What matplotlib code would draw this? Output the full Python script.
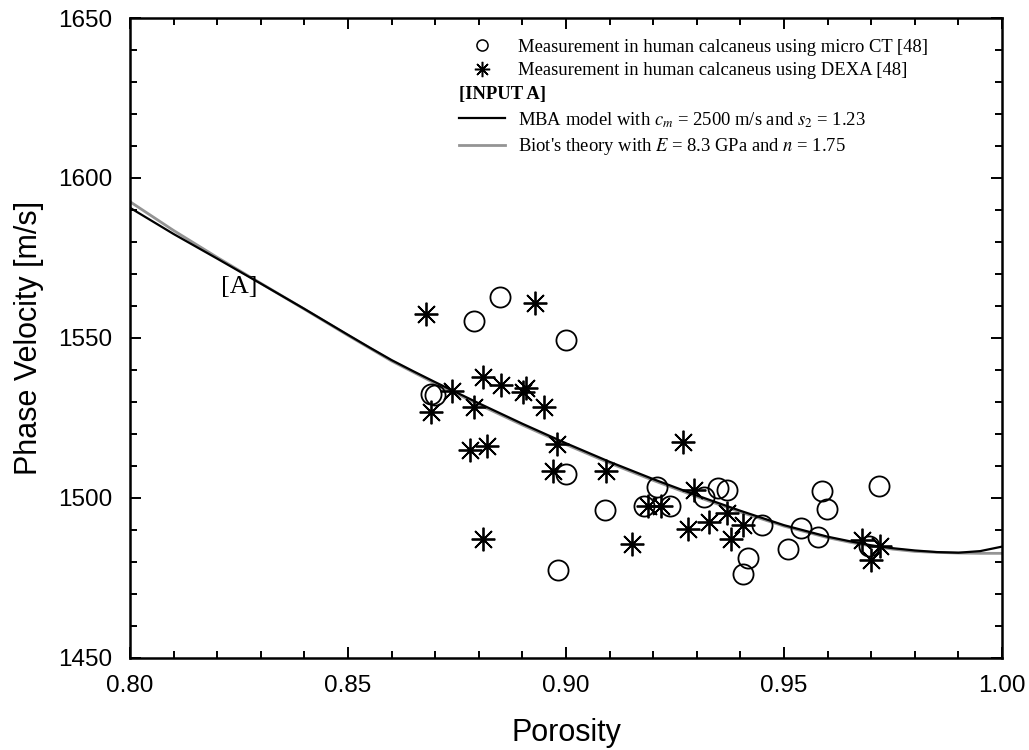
import matplotlib
matplotlib.use("Agg")
import matplotlib.pyplot as plt
from matplotlib.lines import Line2D
from matplotlib.ticker import MultipleLocator, FormatStrFormatter

# ---- data ----
ct_porosity = [0.8788, 0.8849, 0.8999, 0.8691, 0.8699, 0.8999, 0.9209, 0.9090,
               0.8981, 0.9180, 0.9239, 0.9317, 0.9348, 0.9369, 0.9449, 0.9418,
               0.9407, 0.9508, 0.9539, 0.9578, 0.9588, 0.9598, 0.9718, 0.9695]
ct_velocity = [1555.3, 1562.9, 1549.4, 1532.5, 1532.2, 1507.5, 1503.5, 1496.3,
               1477.5, 1497.5, 1497.5, 1500.4, 1503.0, 1502.5, 1491.6, 1481.2,
               1476.3, 1484.0, 1490.5, 1487.9, 1502.2, 1496.5, 1503.8, 1484.9]

dexa_porosity = [0.8680, 0.8930, 0.8690, 0.8739, 0.8809, 0.8850, 0.8790, 0.8901,
                 0.8909, 0.8949, 0.8779, 0.8819, 0.8980, 0.8970, 0.9091, 0.9269,
                 0.8810, 0.9151, 0.9188, 0.9218, 0.9293, 0.9279, 0.9327, 0.9369,
                 0.9407, 0.9378, 0.9678, 0.9699, 0.9720]
dexa_velocity = [1557.4, 1560.8, 1527.0, 1533.5, 1537.9, 1535.3, 1528.5, 1533.2,
                 1534.3, 1528.5, 1515.0, 1516.3, 1516.9, 1508.5, 1508.5, 1517.6,
                 1487.1, 1485.6, 1497.5, 1497.5, 1502.5, 1490.3, 1492.6, 1495.2,
                 1491.6, 1487.1, 1486.9, 1480.6, 1485.0]

curve_porosity = [0.800, 0.810, 0.820, 0.830, 0.840, 0.850, 0.855, 0.860, 0.865,
                  0.870, 0.880, 0.890, 0.900, 0.910, 0.920, 0.930, 0.940, 0.950,
                  0.960, 0.965, 0.970, 0.975, 0.980, 0.985, 0.990, 0.995, 1.000]
mba_velocity = [1590.7, 1582.5, 1574.8, 1567.0, 1559.1, 1551.0, 1547.0, 1543.1,
                1539.6, 1536.2, 1529.6, 1523.2, 1517.1, 1511.3, 1505.9, 1500.8,
                1496.0, 1491.5, 1487.9, 1486.5, 1485.2, 1484.3, 1483.6, 1483.1,
                1482.9, 1483.4, 1484.8]
biot_velocity = [1592.6, 1583.6, 1575.2, 1567.1, 1559.0, 1550.8, 1546.8, 1542.8,
                 1539.3, 1535.8, 1529.2, 1522.8, 1516.7, 1510.9, 1505.5, 1500.4,
                 1495.6, 1491.2, 1487.6, 1486.2, 1485.0, 1484.0, 1483.3, 1483.0,
                 1482.8, 1482.7, 1482.7]

x_ticks = [0.80, 0.85, 0.90, 0.95, 1.00]
y_ticks = [1450, 1500, 1550, 1600, 1650]

ct_label = "Measurement in human calcaneus using micro CT [48]"
dexa_label = "Measurement in human calcaneus using DEXA [48]"
input_label = "[INPUT A]"
mba_label = r"MBA model with $c_m$ = 2500 m/s and $s_2$ = 1.23"
biot_label = r"Biot's theory with $E$ = 8.3 GPa and $n$ = 1.75"
panel_label = "[A]"

# ---- style ----
plt.rcParams['mathtext.fontset'] = 'stix'
sans = ['Liberation Sans', 'DejaVu Sans']
serif = ['Liberation Serif', 'DejaVu Serif']
gray = '#949494'

fig = plt.figure(figsize=(10.29, 7.5), dpi=100)
ax = fig.add_axes([0.1263, 0.1227, 0.8475, 0.8533])

star = (8, 2, 0)
ax.plot(curve_porosity, biot_velocity, color=gray, lw=2.0, zorder=2)
ax.plot(curve_porosity, mba_velocity, color='black', lw=1.6, zorder=3)
ax.plot(ct_porosity, ct_velocity, ls='none', marker='o', ms=14.5, mfc='none',
        mec='black', mew=1.3, zorder=4)
ax.plot(dexa_porosity, dexa_velocity, ls='none', marker=star, ms=17, mfc='black',
        mec='black', mew=1.3, zorder=4)

ax.set_xlim(0.80, 1.00)
ax.set_ylim(1450, 1650)
ax.set_xticks(x_ticks)
ax.set_yticks(y_ticks)
ax.xaxis.set_major_formatter(FormatStrFormatter('%.2f'))
ax.xaxis.set_minor_locator(MultipleLocator(0.01))
ax.yaxis.set_minor_locator(MultipleLocator(10))
ax.tick_params(which='both', direction='in', top=True, right=True, width=1.4)
ax.tick_params(which='major', length=8, labelsize=17.5, pad=12.5)
ax.tick_params(which='minor', length=5)
for lab in ax.get_xticklabels() + ax.get_yticklabels():
    lab.set_family(sans)
for sp in ax.spines.values():
    sp.set_linewidth(1.8)

ax.set_xlabel("Porosity", fontsize=22, family=sans, labelpad=15)
ax.set_ylabel("Phase Velocity [m/s]", fontsize=22, family=sans, labelpad=10)

ax.text(0.825, 1566, panel_label, fontsize=19, family=serif, ha='center', va='center')

handles = [
    Line2D([], [], ls='none', marker='o', ms=8, mfc='none', mec='black', mew=1.1),
    Line2D([], [], ls='none', marker=star, ms=11, mfc='black', mec='black', mew=1.1),
    Line2D([], [], ls='none'),
    Line2D([], [], color='black', lw=1.6),
    Line2D([], [], color=gray, lw=2.0),
]
labels = [ct_label, dexa_label, "", mba_label, biot_label]
leg = ax.legend(handles, labels, loc='upper right', bbox_to_anchor=(0.930, 0.988),
                frameon=False, prop={'family': serif, 'size': 13.4},
                handlelength=2.45, handletextpad=0.72, labelspacing=0.36,
                borderaxespad=0.3)
fig.canvas.draw()
# place [INPUT A] on the blank legend row, aligned with the line handles
txts = leg.get_texts()
hb = leg.legend_handles[3].get_window_extent(fig.canvas.get_renderer())
inv = ax.transAxes.inverted()
x0 = inv.transform((hb.x0, 0))[0]
y_hi = inv.transform((0, txts[1].get_window_extent().y0))[1]
y_lo = inv.transform((0, txts[3].get_window_extent().y1))[1]
ax.text(x0, (y_hi + y_lo) / 2, input_label, transform=ax.transAxes, fontsize=13.4,
        family=serif, weight='bold', ha='left', va='center')

fig.savefig("out.png", dpi=100)
